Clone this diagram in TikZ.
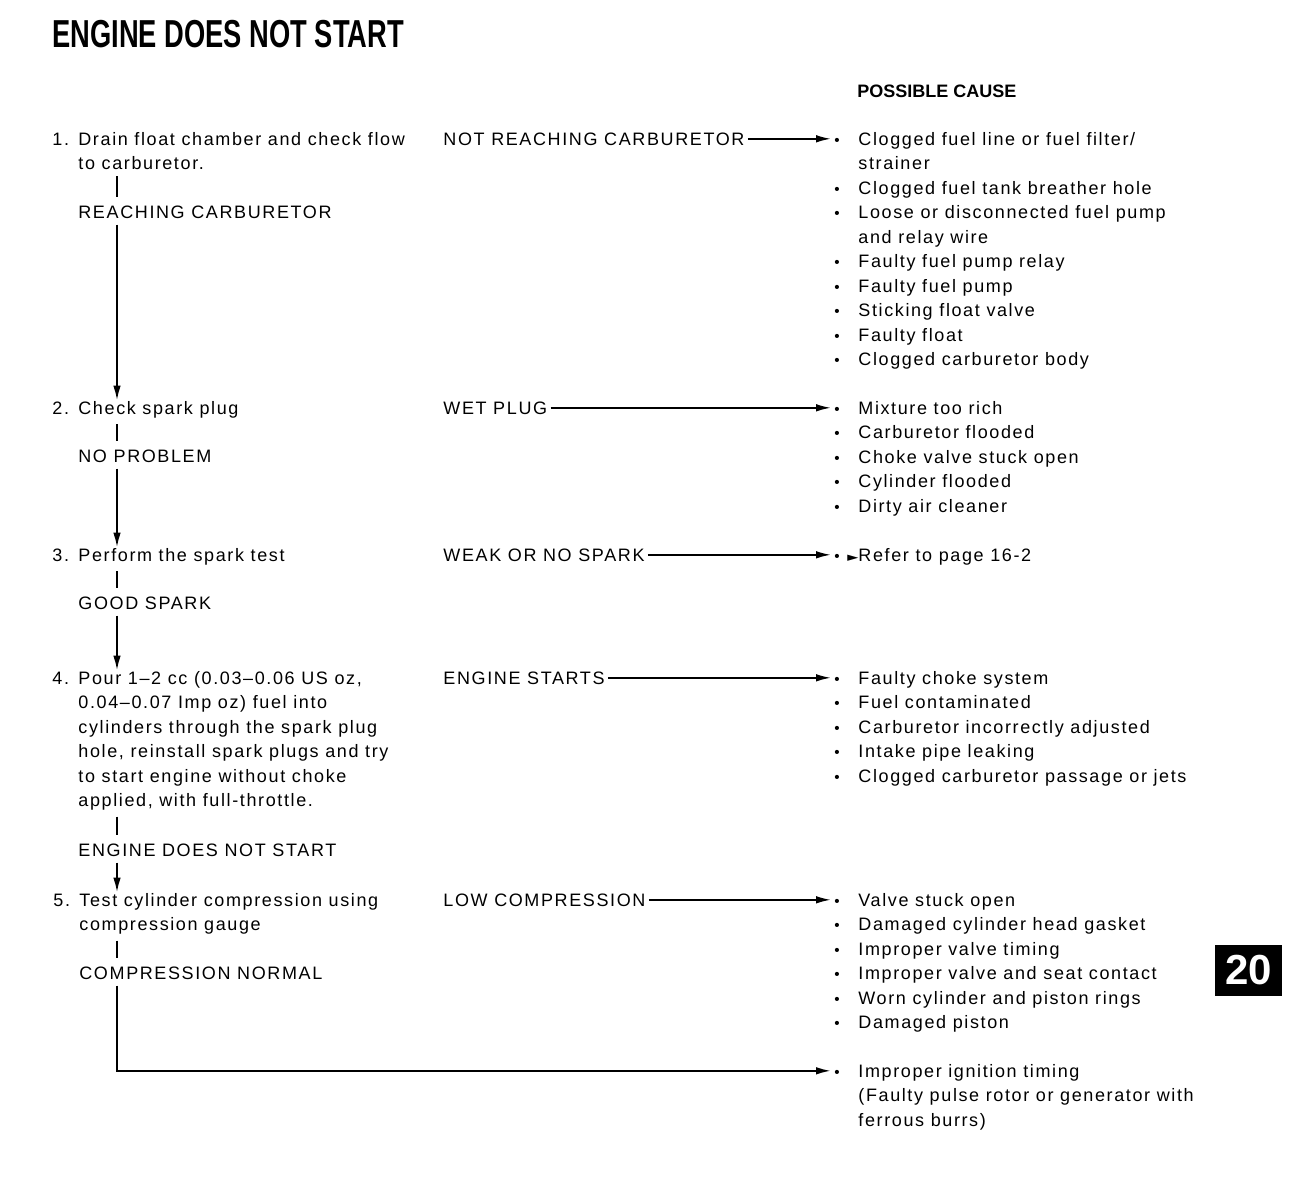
\documentclass[tikz,border=0pt]{standalone}
\usepackage{fontspec}
\setmainfont{Liberation Sans}[LetterSpace=9]
\newfontfamily\plainfont{Liberation Sans}
\newfontfamily\symfont{DejaVu Sans}
\usetikzlibrary{arrows.meta}

% bullet and indent for the cause lists
\newcommand{\bul}{\hspace*{1.5pt}\makebox[12pt][l]{\scalebox{0.85}{•}}}
\newcommand{\ind}{\hspace*{13.5pt}}

\tikzset{
  txt/.style={anchor=base west, inner sep=0pt, font=\fontsize{9}{12.25}\selectfont},
  stepbox/.style={txt, align=left},
  answer/.style={txt, text height=6.2pt, text depth=0pt},
  causebox/.style={txt, align=left},
  flowline/.style={line width=1pt, shorten <=3pt, shorten >=4pt},
  flowarrow/.style={line width=1pt, shorten <=3pt, -{Latex[length=7.5pt,width=3.8pt]}},
  causearrow/.style={line width=0.9pt, shorten <=1.5pt, -{Latex[length=7.5pt,width=3.8pt]}},
}

\begin{document}
\begin{tikzpicture}[x=0.5pt, y=-0.5pt]
\useasboundingbox (0,0) rectangle (1295,1190);

\node [anchor=base west, inner sep=0pt, font=\plainfont\bfseries\fontsize{19.5}{20}\selectfont] (title)
 at (52,47) {\scalebox{0.7}[1]{ENGINE DOES NOT START}};

\node [txt, font=\plainfont\bfseries\fontsize{9}{12.25}\selectfont] (head) at (857,97) {POSSIBLE CAUSE};

\coordinate (ln) at (117,0);

% steps (multi-line nodes sit on their last line)
\node [txt] (n1) at (52,145) {1.};
\node [stepbox] (s1) at (78,169.5) {Drain float chamber and check flow\\to carburetor.};
\node [txt] (r1) at (78,218) {REACHING CARBURETOR};

\node [txt] (n2) at (52,414) {2.};
\node [stepbox] (s2) at (78,414) {Check spark plug};
\node [txt] (r2) at (78,462) {NO PROBLEM};

\node [txt] (n3) at (52,561) {3.};
\node [stepbox] (s3) at (78,561) {Perform the spark test};
\node [txt] (r3) at (78,609) {GOOD SPARK};

\node [txt] (n4) at (52,684) {4.};
\node [stepbox] (s4) at (78,806.5) {Pour 1–2 cc (0.03–0.06 US oz,\\0.04–0.07 Imp oz) fuel into\\cylinders through the spark plug\\hole, reinstall spark plugs and try\\to start engine without choke\\applied, with full-throttle.};
\node [txt] (r4) at (78,856) {ENGINE DOES NOT START};

\node [txt] (n5) at (53,906) {5.};
\node [stepbox] (s5) at (79,930.5) {Test cylinder compression using\\compression gauge};
\node [txt] (r5) at (79,979) {COMPRESSION NORMAL};

% answers
\node [answer] (a1) at (443,145) {NOT REACHING CARBURETOR};
\node [answer] (a2) at (443,414) {WET PLUG};
\node [answer] (a3) at (443,561) {WEAK OR NO SPARK};
\node [answer] (a4) at (443,684) {ENGINE STARTS};
\node [answer] (a5) at (443,906) {LOW COMPRESSION};

% causes
\node [causebox] (c1) at (831,365.5) {\bul Clogged fuel line or fuel filter/\\\ind strainer\\\bul Clogged fuel tank breather hole\\\bul Loose or disconnected fuel pump\\\ind and relay wire\\\bul Faulty fuel pump relay\\\bul Faulty fuel pump\\\bul Sticking float valve\\\bul Faulty float\\\bul Clogged carburetor body};
\node [causebox] (c2) at (831,512) {\bul Mixture too rich\\\bul Carburetor flooded\\\bul Choke valve stuck open\\\bul Cylinder flooded\\\bul Dirty air cleaner};
\node [causebox] (c3) at (831,561) {\bul\llap{\symfont\scalebox{0.8}[0.7]{►}}Refer to page 16-2};
\node [causebox] (c4) at (831,782) {\bul Faulty choke system\\\bul Fuel contaminated\\\bul Carburetor incorrectly adjusted\\\bul Intake pipe leaking\\\bul Clogged carburetor passage or jets};
\node [causebox] (c5) at (831,1028.5) {\bul Valve stuck open\\\bul Damaged cylinder head gasket\\\bul Improper valve timing\\\bul Improper valve and seat contact\\\bul Worn cylinder and piston rings\\\bul Damaged piston};
\node [causebox] (c6) at (831,1126) {\bul Improper ignition timing\\\ind (Faulty pulse rotor or generator with\\\ind ferrous burrs)};

% flow
\draw [flowline] (s1.south -| ln) -- (r1.north -| ln);
\draw [flowarrow] (r1.south -| ln) -- (s2.north -| ln);
\draw [flowline] (s2.south -| ln) -- (r2.north -| ln);
\draw [flowarrow] (r2.south -| ln) -- (s3.north -| ln);
\draw [flowline] (s3.south -| ln) -- (r3.north -| ln);
\draw [flowarrow] (r3.south -| ln) -- (s4.north -| ln);
\draw [flowline] (s4.south -| ln) -- (r4.north -| ln);
\draw [flowarrow] (r4.south -| ln) -- (s5.north -| ln);
\draw [flowline] (s5.south -| ln) -- (r5.north -| ln);
\draw [flowarrow] (r5.south -| ln) |- ([yshift=27.6pt]c6.base west);

\draw [causearrow] (a1.east) -- (a1.east -| c1.west);
\draw [causearrow] (a2.east) -- (a2.east -| c2.west);
\draw [causearrow] (a3.east) -- (a3.east -| c3.west);
\draw [causearrow] (a4.east) -- (a4.east -| c4.west);
\draw [causearrow] (a5.east) -- (a5.east -| c5.west);

% section tab
\node [fill=black, text=white, inner sep=0pt, minimum width=33.5pt, minimum height=25.5pt,
 font=\plainfont\bfseries\fontsize{21}{21}\selectfont] (tab) at (1248.5,970.5) {20};

\end{tikzpicture}
\end{document}
